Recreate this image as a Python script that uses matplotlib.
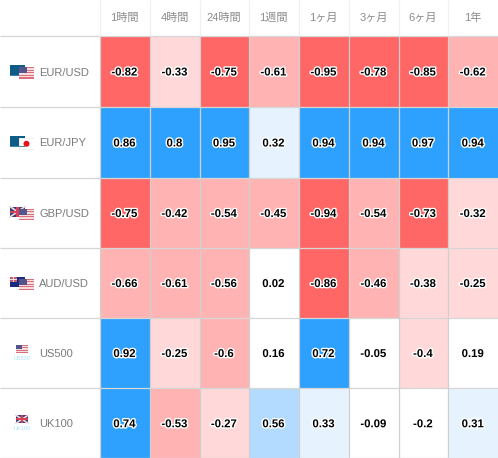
import matplotlib
matplotlib.use('Agg')
import matplotlib.pyplot as plt
import matplotlib.patheffects as pe
from matplotlib.colors import ListedColormap, BoundaryNorm
from matplotlib.patches import Rectangle, Circle
import numpy as np

periods = ['1時間', '4時間', '24時間', '1週間', '1ヶ月', '3ヶ月', '6ヶ月', '1年']
symbols = ['EUR/USD', 'EUR/JPY', 'GBP/USD', 'AUD/USD', 'US500', 'UK100']

eur_usd = [-0.82, -0.33, -0.75, -0.61, -0.95, -0.78, -0.85, -0.62]
eur_jpy = [0.86, 0.8, 0.95, 0.32, 0.94, 0.94, 0.97, 0.94]
gbp_usd = [-0.75, -0.42, -0.54, -0.45, -0.94, -0.54, -0.73, -0.32]
aud_usd = [-0.66, -0.61, -0.56, 0.02, -0.86, -0.46, -0.38, -0.25]
us500 = [0.92, -0.25, -0.6, 0.16, 0.72, -0.05, -0.4, 0.19]
uk100 = [0.74, -0.53, -0.27, 0.56, 0.33, -0.09, -0.2, 0.31]
values = np.array([eur_usd, eur_jpy, gbp_usd, aud_usd, us500, uk100])

# cell edges in pixels
x_edges = [99.5, 149.5, 199.5, 248.5, 298.5, 348.5, 398.5, 447.5, 498]
y_edges = [35.5, 106.5, 177.5, 247.5, 317.5, 387.5, 458]

bins = [-1, -0.7, -0.41, -0.22, 0.22, 0.5, 0.7, 1]
colors = ['#ff6666', '#ffb3b3', '#ffd9d9', '#ffffff', '#e6f3ff', '#b3dbff', '#2ea1ff']

plt.rcParams['font.family'] = ['Liberation Sans', 'Noto Sans CJK JP', 'DejaVu Sans']

fig = plt.figure(figsize=(4.98, 4.58), dpi=100)
ax = fig.add_axes([0, 0, 1, 1])
ax.set_xlim(0, 498)
ax.set_ylim(458, 0)
ax.axis('off')

ax.pcolormesh(x_edges, y_edges, values, cmap=ListedColormap(colors),
              norm=BoundaryNorm(bins, len(colors)), zorder=1)

# grid on top of the cells, one pixel wide
ax.hlines(y_edges, 0, 498, color='#d6d6d6', lw=0.9, zorder=2)
ax.vlines(x_edges[:-1], y_edges[0], 458, color='#d0d0d0', lw=0.9, zorder=2)
ax.vlines(x_edges[:-1], 0, y_edges[0], color='#f0f0f0', lw=0.9, zorder=2)


def rect(x, y, w, h, c, z=3):
  ax.add_patch(Rectangle((x, y), w, h, fc=c, ec='none', zorder=z))


def us_flag(x, y, w, h):
  rect(x, y, w, h, '#f5dde0')
  for i in range(5):
    rect(x, y + i * h / 4.5, w, h / 9, '#d9707c', 3.1)
  rect(x, y, w * 0.5, h * 0.55, '#55558c', 3.2)


def eu_flag(x, y, w, h):
  rect(x, y, w, h, '#0f5c86')
  rect(x, y + h - 1, w, 1, '#3d86ad', 3.1)


def jp_flag(x, y, w, h):
  rect(x, y, w, h, '#eeeeee')
  rect(x + 0.5, y + 0.5, w - 1, h - 1, '#ffffff', 3.05)
  ax.add_patch(Circle((x + w / 2, y + h / 2), 3, fc='#e8101c', ec='none', zorder=3.2))


def uk_flag(x, y, w, h):
  rect(x, y, w, h, '#3b3f78')
  ax.plot([x, x + w], [y, y + h], color='#f0d8dc', lw=1.2, zorder=3.1)
  ax.plot([x, x + w], [y + h, y], color='#f0d8dc', lw=1.2, zorder=3.1)
  rect(x, y + h / 2 - 1.2, w, 2.4, '#d8405a', 3.2)
  rect(x + w / 2 - 1.2, y, 2.4, h, '#d8405a', 3.2)


def au_flag(x, y, w, h):
  rect(x, y, w, h, '#1a2a80')
  rect(x, y, w * 0.45, h * 0.5, '#c8586c', 3.1)
  rect(x + w * 0.2, y, 1, h * 0.5, '#f0e0e4', 3.2)
  rect(x, y + h * 0.2, w * 0.45, 1, '#f0e0e4', 3.2)


# pair flags sit top left / bottom right, index flags have a small caption
back_flags = [eu_flag, eu_flag, uk_flag, au_flag]
front_flags = [us_flag, jp_flag, us_flag, us_flag]
for r, sym in enumerate(symbols):
  cy = (y_edges[r] + y_edges[r + 1]) / 2
  if r < 4:
    back_flags[r](10, cy - 6, 15, 10.5)
    front_flags[r](19, cy - 4, 15, 11.5)
  else:
    (us_flag if r == 4 else uk_flag)(16, cy - 7.5, 12, 8)
    ax.text(22, cy + 5.5, sym, ha='center', va='center', fontsize=4, color='#a5e3f5', zorder=3)
  ax.text(39, cy + 1.5, sym, ha='left', va='center', fontsize=8, color='#7a7a7a')

outline = [pe.withStroke(linewidth=2, foreground='white')]
for r in range(len(symbols)):
  cy = (y_edges[r] + y_edges[r + 1]) / 2
  for c in range(len(periods)):
    cx = (x_edges[c] + x_edges[c + 1]) / 2
    ax.text(cx, cy + 1.5, str(values[r][c]), ha='center', va='center', fontsize=8.2,
            fontweight='bold', color='black', path_effects=outline, zorder=4)

for c, p in enumerate(periods):
  cx = (x_edges[c] + x_edges[c + 1]) / 2
  ax.text(cx, 18, p, ha='center', va='center', fontsize=8, color='#8c8c8c')

fig.savefig('out.png', dpi=100)
